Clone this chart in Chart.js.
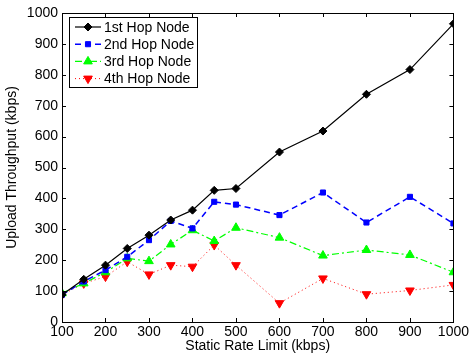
<!DOCTYPE html>
<html>
<head>
<meta charset="utf-8">
<script src="https://cdn.jsdelivr.net/npm/chart.js@4/dist/chart.umd.min.js"></script>
<style>
  html, body { margin: 0; padding: 0; background: #fff; }
  #wrap { width: 471px; height: 355px; }
</style>
</head>
<body>
<div id="wrap"><canvas id="rateChart" width="471" height="355"></canvas></div>
<script>
// values
const rateLimits = [100, 150, 200, 250, 300, 350, 400, 450, 500, 600, 700, 800, 900, 1000];
const hop1 = [88, 138, 184, 238, 281, 330, 362, 426, 432, 550, 618, 737, 817, 965];
const hop2 = [88, 131, 168, 211, 265, 327, 303, 389, 380, 346, 419, 322, 405, 319];
const hop3 = [93, 125, 161, 206, 197, 251, 297, 262, 305, 273, 215, 233, 217, 161];
const hop4 = [88, 125, 147, 195, 154, 184, 179, 249, 184, 61, 141, 90, 102, 120];
const seriesNames = ['1st Hop Node', '2nd Hop Node', '3rd Hop Node', '4th Hop Node'];
const xTicks = [100, 200, 300, 400, 500, 600, 700, 800, 900, 1000];
const yTicks = [0, 100, 200, 300, 400, 500, 600, 700, 800, 900, 1000];

const FONT = 'Liberation Sans, Arial, Helvetica, sans-serif';

function pts(vals) {
  return rateLimits.map((x, i) => ({ x, y: vals[i] }));
}

// matlab-style box, inward ticks and in-plot legend
const matlabBox = {
  id: 'matlabBox',
  afterDraw(chart) {
    const { ctx, chartArea: a, scales } = chart;
    ctx.save();
    ctx.strokeStyle = '#000';
    ctx.lineWidth = 1;
    ctx.setLineDash([]);
    ctx.strokeRect(Math.round(a.left) + 0.5, Math.round(a.top) + 0.5,
      Math.round(a.right - a.left), Math.round(a.bottom - a.top));
    const len = 4;
    ctx.beginPath();
    xTicks.forEach(v => {
      const px = Math.round(scales.x.getPixelForValue(v)) + 0.5;
      ctx.moveTo(px, a.bottom); ctx.lineTo(px, a.bottom - len);
      ctx.moveTo(px, a.top); ctx.lineTo(px, a.top + len);
    });
    yTicks.forEach(v => {
      const py = Math.round(scales.y.getPixelForValue(v)) + 0.5;
      ctx.moveTo(a.left, py); ctx.lineTo(a.left + len, py);
      ctx.moveTo(a.right, py); ctx.lineTo(a.right - len, py);
    });
    ctx.stroke();

    // legend
    const bx = 69.5, by = 17.5, bw = 128, bh = 70;
    ctx.fillStyle = '#fff';
    ctx.fillRect(bx, by, bw, bh);
    ctx.strokeRect(bx, by, bw, bh);
    ctx.font = '14px ' + FONT;
    ctx.textBaseline = 'middle';
    chart.data.datasets.forEach((ds, i) => {
      const y = 27 + i * 17.2;
      ctx.save();
      ctx.strokeStyle = ds.borderColor;
      ctx.lineWidth = ds.borderWidth;
      ctx.setLineDash(ds.borderDash || []);
      ctx.beginPath();
      ctx.moveTo(75, y); ctx.lineTo(101, y);
      ctx.stroke();
      ctx.setLineDash([]);
      ctx.fillStyle = ds.pointBackgroundColor;
      ctx.strokeStyle = ds.pointBorderColor;
      ctx.lineWidth = 1;
      Chart.helpers.drawPoint(ctx, {
        pointStyle: ds.pointStyle, rotation: ds.pointRotation || 0,
        radius: ds.pointRadius, borderWidth: 1
      }, 88, y);
      ctx.restore();
      ctx.fillStyle = '#000';
      ctx.fillText(ds.label, 104, y + 1);
    });
    ctx.restore();
  }
};

function series(label, vals, color, dash, style, radius, rot, width) {
  return {
    label,
    data: pts(vals),
    borderColor: color,
    backgroundColor: color,
    pointBackgroundColor: color,
    pointBorderColor: color,
    borderWidth: width,
    borderDash: dash,
    pointStyle: style,
    pointRadius: radius,
    pointRotation: rot,
    pointBorderWidth: 1,
    tension: 0,
    fill: false
  };
}

new Chart(document.getElementById('rateChart').getContext('2d'), {
  type: 'line',
  data: {
    datasets: [
      series(seriesNames[0], hop1, '#000000', [], 'rectRot', 4, 0, 1.2),
      series(seriesNames[1], hop2, '#0000ff', [6, 4], 'rect', 3.6, 0, 1.5),
      series(seriesNames[2], hop3, '#00ff00', [7, 3, 2, 3], 'triangle', 5, 0, 1.2),
      series(seriesNames[3], hop4, '#ff0000', [1, 3], 'triangle', 5, 180, 1)
    ]
  },
  options: {
    responsive: false,
    animation: false,
    devicePixelRatio: 1,
    layout: { padding: { top: 13, right: 16, left: 0, bottom: 0 } },
    plugins: {
      legend: { display: false },
      tooltip: { enabled: false }
    },
    scales: {
      x: {
        type: 'linear',
        min: 100,
        max: 1000,
        afterBuildTicks: s => { s.ticks = xTicks.map(v => ({ value: v })); },
        afterFit: s => { s.height = 33; },
        grid: { display: false, drawTicks: false },
        border: { display: false },
        ticks: { color: '#000', font: { size: 14, family: FONT }, padding: 2, maxRotation: 0, autoSkip: false, callback: v => String(v) },
        title: { display: true, text: 'Static Rate Limit (kbps)', color: '#000', font: { size: 14, family: FONT }, padding: { top: 0, bottom: 0 } }
      },
      y: {
        min: 0,
        max: 1000,
        afterBuildTicks: s => { s.ticks = yTicks.map(v => ({ value: v })); },
        afterFit: s => { s.width = 62; },
        grid: { display: false, drawTicks: false },
        border: { display: false },
        ticks: { color: '#000', font: { size: 14, family: FONT }, padding: 4, autoSkip: false, callback: v => String(v) },
        title: { display: true, text: 'Upload Throughput (kbps)', color: '#000', font: { size: 14, family: FONT }, padding: { top: 4, bottom: 0 } }
      }
    }
  },
  plugins: [matlabBox]
});
</script>
</body>
</html>
